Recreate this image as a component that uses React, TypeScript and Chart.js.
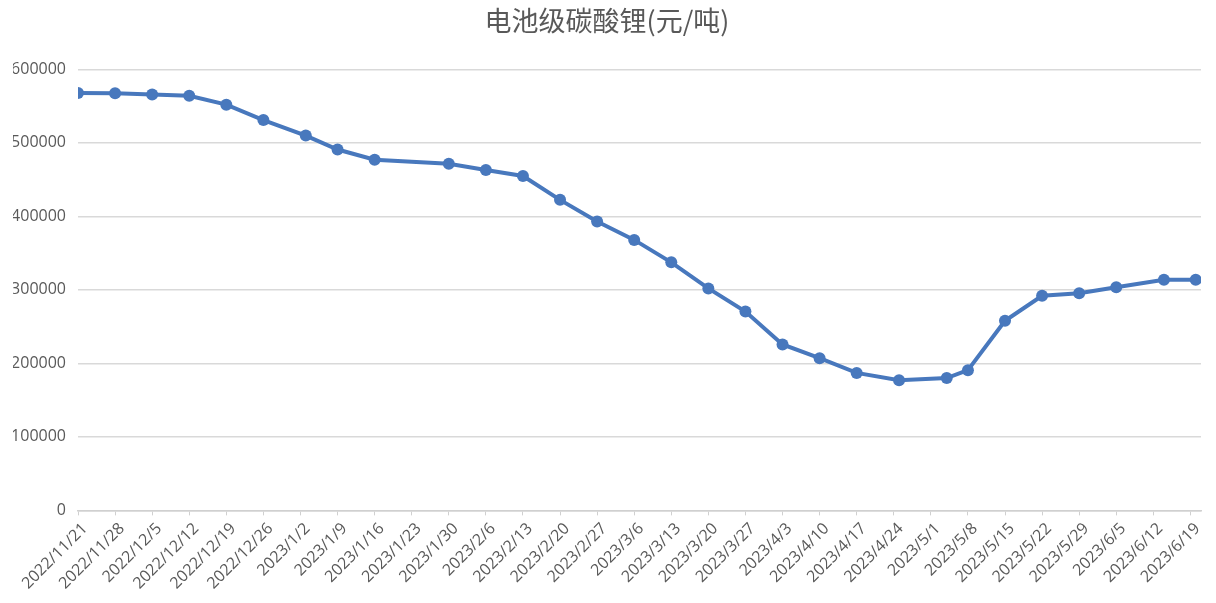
import React, { useEffect, useRef } from "react";
import { Chart, registerables } from "chart.js";

Chart.register(...registerables);

const chartTitle = "电池级碳酸锂(元/吨)";

const tickLabels = [
  "2022/11/21", "2022/11/28", "2022/12/5", "2022/12/12", "2022/12/19", "2022/12/26",
  "2023/1/2", "2023/1/9", "2023/1/16", "2023/1/23", "2023/1/30", "2023/2/6",
  "2023/2/13", "2023/2/20", "2023/2/27", "2023/3/6", "2023/3/13", "2023/3/20",
  "2023/3/27", "2023/4/3", "2023/4/10", "2023/4/17", "2023/4/24", "2023/5/1",
  "2023/5/8", "2023/5/15", "2023/5/22", "2023/5/29", "2023/6/5", "2023/6/12",
  "2023/6/19",
];

const pointDates = [
  "2022-11-21", "2022-11-28", "2022-12-05", "2022-12-12", "2022-12-19", "2022-12-26",
  "2023-01-03", "2023-01-09", "2023-01-16", "2023-01-30", "2023-02-06", "2023-02-13",
  "2023-02-20", "2023-02-27", "2023-03-06", "2023-03-13", "2023-03-20", "2023-03-27",
  "2023-04-03", "2023-04-10", "2023-04-17", "2023-04-25", "2023-05-04", "2023-05-08",
  "2023-05-15", "2023-05-22", "2023-05-29", "2023-06-05", "2023-06-14", "2023-06-20",
];

const priceValues = [
  568000, 567500, 566000, 564000, 552000, 531000,
  510000, 491000, 477000, 471700, 463000, 455000,
  422500, 393000, 368000, 337500, 302000, 270500,
  225800, 207000, 187000, 177000, 180000, 190800,
  258000, 292000, 295500, 303700, 313700, 313700,
];

const startDate = "2022-11-21";
const endDate = "2023-06-21";

function dayNumber(s: string): number {
  const [y, m, d] = s.split("-").map(Number);
  return Date.UTC(y, m - 1, d) / 86400000;
}

const zeroPad = () => ({ left: 0, top: 0, right: 0, bottom: 0 });

export default function App() {
  const ref = useRef<HTMLCanvasElement | null>(null);

  useEffect(() => {
    if (!ref.current) return;
    const base = dayNumber(startDate);
    const points = pointDates.map((d, i) => ({ x: dayNumber(d) - base, y: priceValues[i] }));
    const color = "#4878BD";
    const chart = new Chart(ref.current, {
      type: "line",
      data: {
        datasets: [
          {
            data: points,
            borderColor: color,
            backgroundColor: color,
            borderWidth: 4,
            pointRadius: 6,
            pointHoverRadius: 6,
            pointBorderWidth: 0,
            pointBackgroundColor: color,
            tension: 0,
          },
        ],
      },
      options: {
        animation: false,
        responsive: false,
        maintainAspectRatio: false,
        layout: { padding: { left: 13, right: 15, top: 0, bottom: 6 } },
        plugins: {
          legend: { display: false },
          tooltip: { enabled: false },
          title: {
            display: true,
            text: chartTitle,
            color: "#595959",
            font: { family: "'Noto Sans CJK SC', sans-serif", size: 27, weight: "normal" },
            padding: { top: 5, bottom: 32 },
          },
        },
        scales: {
          x: {
            type: "linear",
            min: 0,
            max: dayNumber(endDate) - base,
            afterBuildTicks: (scale: any) => {
              scale.ticks = tickLabels.map((_, i) => ({ value: i * 7 }));
            },
            afterFit: (scale: any) => {
              scale.paddingLeft = 0;
              scale.paddingRight = 0;
              scale.getPadding = zeroPad;
            },
            grid: {
              display: true,
              drawOnChartArea: false,
              drawTicks: true,
              tickLength: 5,
              color: "#D0D0D0",
              lineWidth: 1,
            },
            border: { display: true, color: "#D0D0D0", width: 1.5 },
            ticks: {
              autoSkip: false,
              maxRotation: 45,
              minRotation: 45,
              padding: 4,
              labelOffset: 7,
              color: "#595959",
              font: { family: "'Open Sans', sans-serif", size: 16 },
              callback: (v: any) => tickLabels[Math.round(Number(v) / 7)] ?? "",
            },
          },
          y: {
            min: 0,
            max: 600000,
            afterFit: (scale: any) => {
              scale.width = 65;
            },
            grid: { color: "#D9D9D9", lineWidth: 1.5, drawTicks: false },
            border: { display: false },
            ticks: {
              stepSize: 100000,
              padding: 12,
              color: "#595959",
              font: { family: "'Open Sans', sans-serif", size: 16 },
              callback: (v: any) => String(v),
            },
          },
        },
      },
    });
    return () => chart.destroy();
  }, []);

  return (
    <div style={{ position: "fixed", left: 0, top: 0, width: 1216, height: 603, background: "#fff" }}>
      <canvas ref={ref} width={1216} height={603} style={{ display: "block" }} />
    </div>
  );
}
